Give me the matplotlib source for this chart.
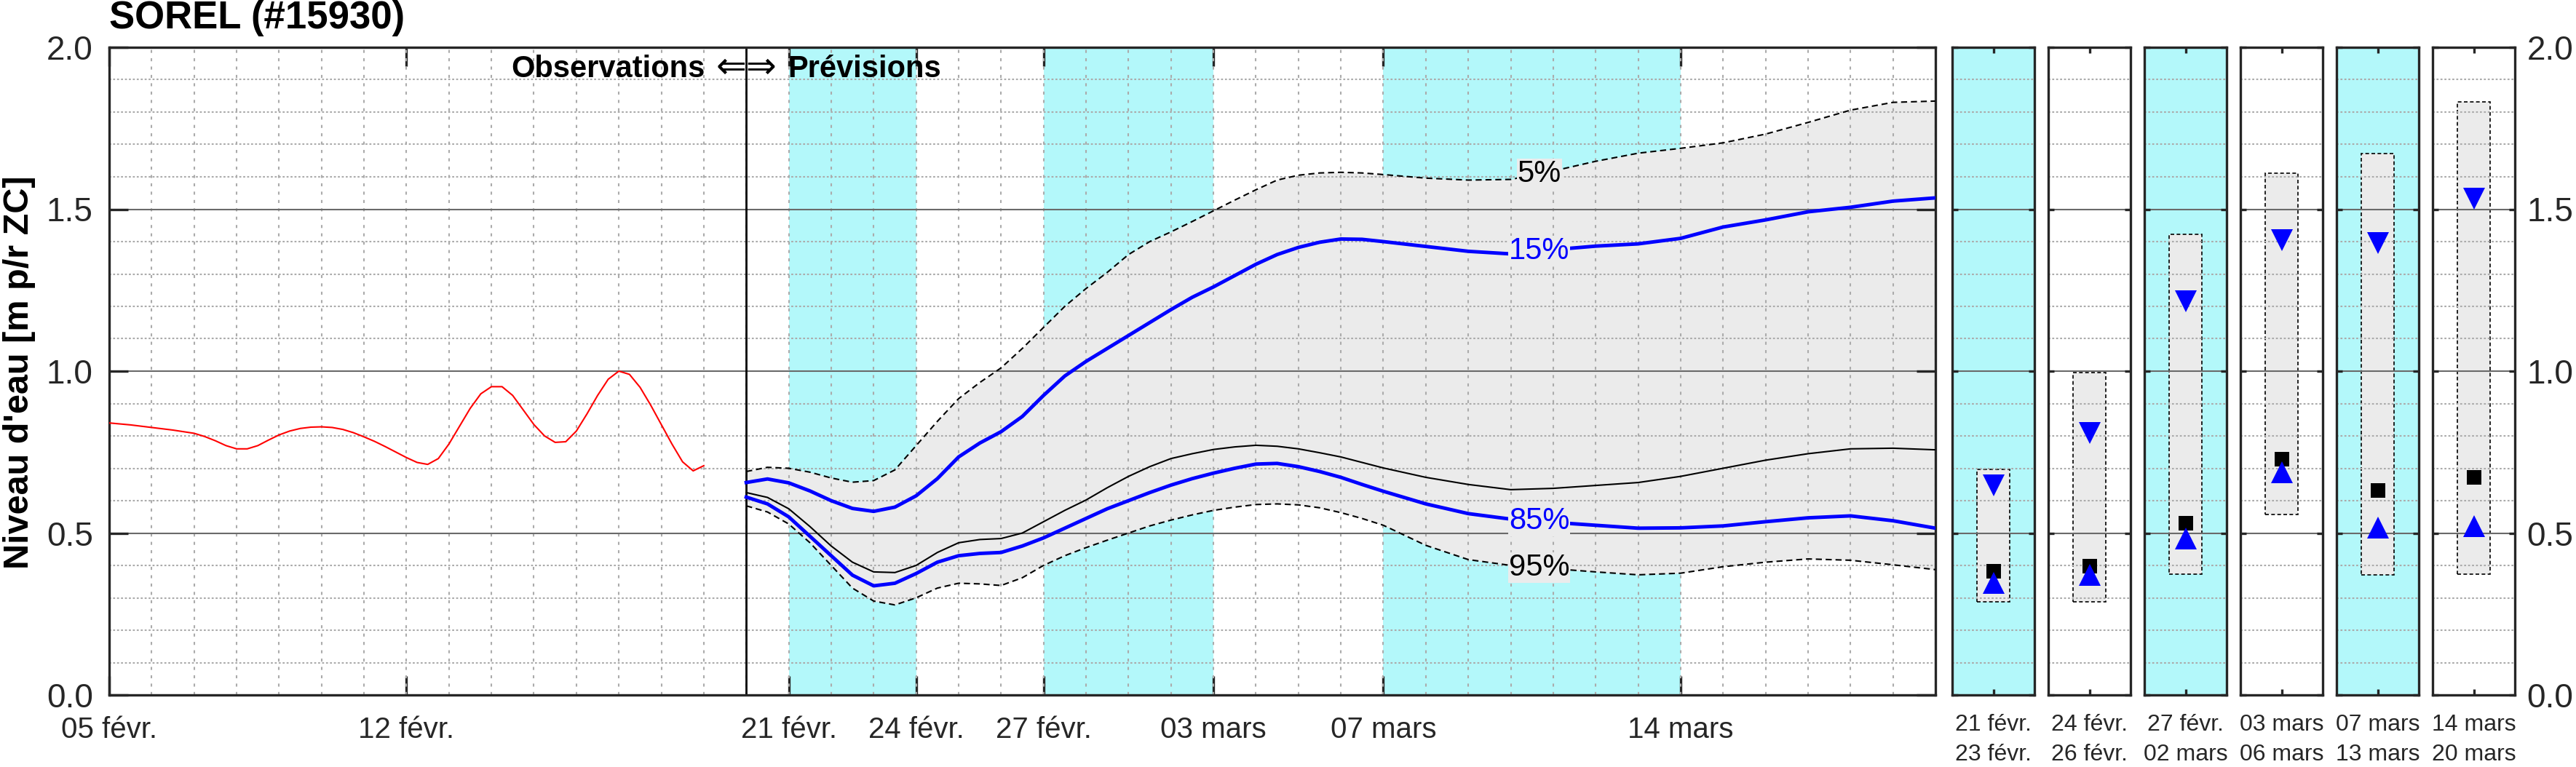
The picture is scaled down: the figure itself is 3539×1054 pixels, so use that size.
import numpy as np
import matplotlib
matplotlib.use("Agg")
import matplotlib.pyplot as plt

W, H, DPI = 3539, 1054, 100

plt.rcParams['font.family'] = ['Liberation Sans', 'DejaVu Sans']

# =========================
# DONNEES
# =========================
STATION = "SOREL (#15930)"
T0 = np.datetime64("2025-02-05")          # debut de l'axe
JOUR_PREV = np.datetime64("2025-02-20")   # debut des previsions
T_FIN = np.datetime64("2025-03-20")


def jours(d):
    return (np.datetime64(d) - T0) / np.timedelta64(1, "D")


# observations (jours depuis le 05 fevr., niveau en m p/r ZC)
obs_jour = [0.0, 0.5, 1.0, 1.5, 2.0, 2.25, 2.5, 2.75, 3.0, 3.25, 3.5, 3.75,
            4.0, 4.25, 4.5, 4.75, 5.0, 5.25, 5.5, 5.75, 6.0, 6.25, 6.5, 6.75,
            7.0, 7.25, 7.5, 7.75, 8.0, 8.25, 8.5, 8.75, 9.0, 9.25, 9.5, 9.75,
            10.0, 10.25, 10.5, 10.75, 11.0, 11.25, 11.5, 11.75, 12.0, 12.25,
            12.5, 12.75, 13.0, 13.25, 13.5, 13.75, 14.0]
obs_niveau = [0.840, 0.834, 0.826, 0.818, 0.808, 0.798, 0.785, 0.770, 0.760,
              0.760, 0.770, 0.787, 0.803, 0.815, 0.823, 0.827, 0.828, 0.826,
              0.820, 0.810, 0.797, 0.783, 0.767, 0.750, 0.733, 0.718, 0.712,
              0.730, 0.775, 0.830, 0.885, 0.930, 0.952, 0.952, 0.925, 0.880,
              0.835, 0.800, 0.780, 0.782, 0.815, 0.868, 0.925, 0.975, 1.000,
              0.990, 0.950, 0.895, 0.835, 0.775, 0.720, 0.692, 0.708]

# previsions d'ensemble (quantiles)
prev_jour = [15, 15.5, 16, 16.5, 17, 17.5, 18, 18.5, 19, 19.5, 20, 20.5, 21,
             21.5, 22, 22.5, 23, 23.5, 24, 24.5, 25, 25.5, 26, 26.5, 27, 27.5,
             28, 28.5, 29, 29.5, 30, 31, 32, 33, 34, 35, 36, 37, 38, 39, 40,
             41, 42, 43]
q05 = [0.690, 0.703, 0.700, 0.688, 0.670, 0.657, 0.662, 0.695, 0.770, 0.845,
       0.915, 0.965, 1.010, 1.070, 1.135, 1.200, 1.255, 1.305, 1.360, 1.400,
       1.430, 1.462, 1.495, 1.528, 1.560, 1.590, 1.605, 1.612, 1.614, 1.612,
       1.607, 1.596, 1.590, 1.592, 1.618, 1.648, 1.673, 1.688, 1.705, 1.732,
       1.768, 1.806, 1.830, 1.834]
q15 = [0.656, 0.667, 0.655, 0.630, 0.600, 0.576, 0.567, 0.580, 0.615, 0.668,
       0.735, 0.778, 0.813, 0.860, 0.925, 0.985, 1.030, 1.070, 1.110, 1.150,
       1.190, 1.228, 1.260, 1.295, 1.330, 1.360, 1.382, 1.398, 1.408, 1.407,
       1.400, 1.385, 1.370, 1.362, 1.375, 1.386, 1.393, 1.410, 1.445, 1.467,
       1.492, 1.506, 1.525, 1.535]
q50 = [0.625, 0.610, 0.575, 0.520, 0.460, 0.410, 0.380, 0.378, 0.400, 0.440,
       0.470, 0.480, 0.483, 0.500, 0.535, 0.570, 0.602, 0.640, 0.675, 0.705,
       0.730, 0.745, 0.758, 0.766, 0.771, 0.768, 0.760, 0.748, 0.735, 0.718,
       0.701, 0.672, 0.650, 0.634, 0.638, 0.647, 0.656, 0.675, 0.700, 0.725,
       0.745, 0.760, 0.762, 0.757]
q85 = [0.611, 0.590, 0.550, 0.490, 0.430, 0.370, 0.337, 0.345, 0.375, 0.410,
       0.430, 0.437, 0.440, 0.460, 0.485, 0.515, 0.545, 0.575, 0.600, 0.625,
       0.648, 0.668, 0.685, 0.700, 0.713, 0.715, 0.705, 0.690, 0.672, 0.650,
       0.629, 0.590, 0.560, 0.543, 0.533, 0.524, 0.515, 0.516, 0.522, 0.535,
       0.547, 0.553, 0.538, 0.515]
q95 = [0.584, 0.565, 0.528, 0.470, 0.400, 0.330, 0.290, 0.278, 0.300, 0.330,
       0.345, 0.343, 0.338, 0.362, 0.400, 0.430, 0.455, 0.478, 0.500, 0.522,
       0.540, 0.556, 0.570, 0.580, 0.588, 0.590, 0.587, 0.578, 0.563, 0.545,
       0.524, 0.462, 0.418, 0.400, 0.390, 0.380, 0.371, 0.376, 0.396, 0.410,
       0.420, 0.416, 0.402, 0.387]

# graduations de l'axe des dates
tick_dates = ["2025-02-05", "2025-02-12", "2025-02-21", "2025-02-24",
              "2025-02-27", "2025-03-03", "2025-03-07", "2025-03-14"]
tick_labels = ["05 févr.", "12 févr.", "21 févr.", "24 févr.", "27 févr.",
               "03 mars", "07 mars", "14 mars"]

# periodes (bandes cyan = periodes impaires)
bandes = [("2025-02-21", "2025-02-24"), ("2025-02-27", "2025-03-03"),
          ("2025-03-07", "2025-03-14")]

# resume par periode
per_debut = ["21 févr.", "24 févr.", "27 févr.", "03 mars", "07 mars", "14 mars"]
per_fin = ["23 févr.", "26 févr.", "02 mars", "06 mars", "13 mars", "20 mars"]
per_q05 = [0.697, 0.996, 1.422, 1.612, 1.671, 1.832]
per_q95 = [0.287, 0.287, 0.374, 0.558, 0.370, 0.374]
per_q15 = [0.648, 0.808, 1.215, 1.404, 1.396, 1.532]
per_q50 = [0.382, 0.397, 0.531, 0.729, 0.632, 0.672]
per_q85 = [0.347, 0.370, 0.483, 0.687, 0.516, 0.521]

# =========================
# STYLE
# =========================
CYAN = "#b3f8fa"
GRIS = "#ebebeb"
AXC = "#262626"
GRID_MAJ = "#6a6a6a"
GRID_MIN = "#ababab"

fig = plt.figure(figsize=(W / DPI, H / DPI), dpi=DPI)

AX_BOT = 1 - 955 / H
AX_H = (955 - 65) / H


def style_axes(a, tick_len):
    for s in a.spines.values():
        s.set_linewidth(2.4)
        s.set_color(AXC)
    a.set_ylim(0, 2)
    a.set_yticks(np.arange(0, 2.01, 0.5))
    a.set_yticks(np.arange(0, 2.01, 0.1), minor=True)
    a.yaxis.grid(True, which="major", color=GRID_MAJ, lw=1.5, ls="-")
    a.yaxis.grid(True, which="minor", color=GRID_MIN, lw=1.5, ls=(0, (1.3, 1.3)))
    a.set_axisbelow("line")
    a.tick_params(which="major", direction="in", length=tick_len, width=2.4,
                  color=AXC, top=True, right=True, labelcolor=AXC)
    a.tick_params(which="minor", length=0)


# =========================
# GRAPHIQUE PRINCIPAL
# =========================
ax = fig.add_axes([150 / W, AX_BOT, (2659 - 150) / W, AX_H])
style_axes(ax, 19)
ax.set_xlim(0, jours(T_FIN))

for d0, d1 in bandes:
    ax.axvspan(jours(d0), jours(d1), color=CYAN, lw=0, zorder=0.2)

ax.fill_between(prev_jour, q95, q05, color=GRIS, lw=0, zorder=0.8)

ax.set_xticks([jours(d) for d in tick_dates], tick_labels)
ax.set_xticks(np.arange(0, jours(T_FIN) + 0.1, 1), minor=True)
ax.xaxis.remove_overlapping_locs = False
ax.xaxis.grid(True, which="minor", color=GRID_MIN, lw=1.5, ls=(0, (2, 3.5)))
ax.tick_params(axis="x", which="major", labelsize=29, pad=21)
ax.tick_params(axis="y", which="major", labelsize=33, pad=16)
ax.set_yticklabels(["%.1f" % v for v in ax.get_yticks()])

ax.axvline(jours(JOUR_PREV), color="k", lw=2, zorder=2)

ax.plot(obs_jour, obs_niveau, color="#ff0000", lw=1.5, zorder=3)
ax.plot(prev_jour, q05, color="k", lw=1.5, ls=(0, (4, 2.5)), zorder=3)
ax.plot(prev_jour, q95, color="k", lw=1.5, ls=(0, (4, 2.5)), zorder=3)
ax.plot(prev_jour, q50, color="k", lw=1.5, zorder=3)
ax.plot(prev_jour, q15, color="#0000ff", lw=3.5, zorder=3.2)
ax.plot(prev_jour, q85, color="#0000ff", lw=3.5, zorder=3.2)

# etiquettes des quantiles sur les courbes
x_lab = 33.67
for serie, txt, col in [(q05, "5%", "k"), (q15, "15%", "#0000ff"),
                        (q85, "85%", "#0000ff"), (q95, "95%", "k")]:
    ax.text(x_lab, np.interp(x_lab, prev_jour, serie), txt, color=col,
            fontsize=30, ha="center", va="center", zorder=4,
            bbox=dict(facecolor=GRIS, edgecolor="none", pad=0.5))

# Observations <=> Previsions
y_txt = 1.907
xb = jours(JOUR_PREV)
ax.annotate("Observations", xy=(xb, y_txt), xytext=(-57, 0),
            textcoords="offset pixels", ha="right", va="baseline",
            fontsize=30, fontweight="bold", zorder=5)
ax.annotate("Prévisions", xy=(xb, y_txt), xytext=(57, 0),
            textcoords="offset pixels", ha="left", va="baseline",
            fontsize=30, fontweight="bold", zorder=5)
ax.text(xb, y_txt, "⇐⇒", ha="center", va="baseline", fontsize=36,
        family="DejaVu Sans", zorder=5)

# =========================
# PANNEAUX PAR PERIODE
# =========================
for i in range(len(per_debut)):
    pax = fig.add_axes([(2682 + i * 132) / W, AX_BOT, 113 / W, AX_H])
    style_axes(pax, 6)
    pax.set_xlim(0, 1)
    if i % 2 == 0:
        pax.set_facecolor(CYAN)
    pax.bar(0.5, per_q05[i] - per_q95[i], bottom=per_q95[i], width=0.4,
            color=GRIS, edgecolor="k", linestyle=(0, (3, 2)), linewidth=1.2,
            zorder=0.8)
    pax.plot(0.5, per_q50[i], "s", color="k", ms=15, mew=0, zorder=3)
    pax.plot(0.5, per_q15[i], "v", color="#0000ff", ms=21, mew=0, zorder=3.1)
    pax.plot(0.5, per_q85[i], "^", color="#0000ff", ms=21, mew=0, zorder=3.1)
    pax.set_xticks([0.5], [per_debut[i] + "\n" + per_fin[i]], linespacing=1.45)
    pax.tick_params(axis="x", labelsize=23, pad=19)
    if i == len(per_debut) - 1:
        pax.tick_params(axis="y", labelleft=False, labelright=True,
                        labelsize=33, pad=12)
        pax.set_yticklabels(["%.1f" % v for v in pax.get_yticks()])
    else:
        pax.tick_params(axis="y", labelleft=False)

# =========================
# TITRES
# =========================
fig.text(150 / W, 1 - 39 / H, STATION, fontsize=38, fontweight="bold",
         ha="left", va="baseline")
fig.text(27 / W, 1 - 512 / H, "Niveau d'eau [m p/r ZC]", fontsize=35,
         fontweight="bold", rotation=90, ha="center", va="center")

fig.savefig("out.png", dpi=DPI)
